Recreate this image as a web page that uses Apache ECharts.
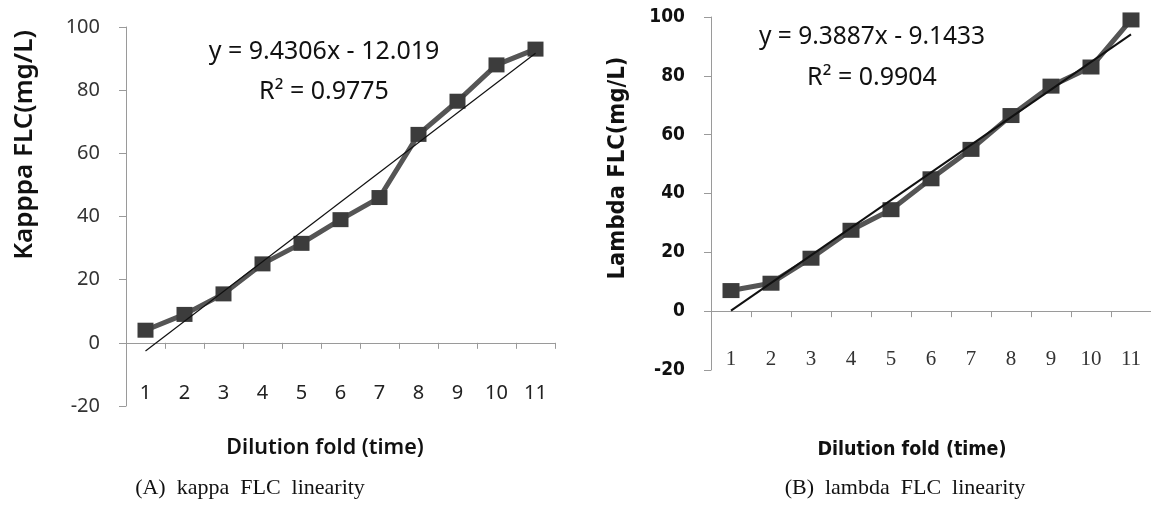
<!DOCTYPE html>
<html>
<head>
<meta charset="utf-8">
<style>
  html, body { margin: 0; padding: 0; background: #fff; }
  #main { width: 1151px; height: 511px; }
</style>
<script src="https://cdn.jsdelivr.net/npm/echarts@6/dist/echarts.min.js"></script>
</head>
<body>
<div id="main"></div>
<script>
var categories = ['1', '2', '3', '4', '5', '6', '7', '8', '9', '10', '11'];
var kappaValues = [4, 9, 15.5, 25, 31.5, 39, 46, 66, 76.5, 88, 93];
var lambdaValues = [7, 9.5, 18, 27.5, 34.5, 45, 55, 66.5, 76.5, 83, 99];
// trend line ends, read at dilution 1 and 11
var kappaTrend = [-2.6, 91.7];
var lambdaTrend = [0.2, 94.1];
var yMin = -20, yMax = 100, yStep = 20;

var myChart = echarts.init(document.getElementById('main'));

function yAxisOf(grid, labelStyle) {
  return {
    type: 'value', gridIndex: grid, min: yMin, max: yMax, interval: yStep,
    splitLine: { show: false },
    axisLine: { show: true, lineStyle: { color: '#9a9a9a', width: 1 } },
    axisTick: { show: true, length: 7, lineStyle: { color: '#9a9a9a' } },
    axisLabel: Object.assign({ margin: 26 }, labelStyle)
  };
}

function xAxisOf(grid, labelStyle) {
  return {
    type: 'category', gridIndex: grid, data: categories, boundaryGap: true,
    axisLine: { onZero: true, lineStyle: { color: '#9a9a9a', width: 1 } },
    axisTick: { show: true, length: 6, lineStyle: { color: '#9a9a9a' } },
    axisLabel: Object.assign({ interval: 0 }, labelStyle)
  };
}

function dataSeries(idx, values, size) {
  return {
    type: 'line', xAxisIndex: idx, yAxisIndex: idx, data: values,
    symbol: 'rect', symbolSize: size,
    lineStyle: { color: '#555', width: 5 },
    itemStyle: { color: '#3c3c3c' },
    z: 2
  };
}

function trendSeries(idx, ends, w) {
  return {
    type: 'line', xAxisIndex: idx, yAxisIndex: idx,
    data: [[0, ends[0]], [categories.length - 1, ends[1]]],
    symbol: 'none', lineStyle: { color: '#111', width: w }, z: 3
  };
}

function label(text, x, y, font, rot) {
  return {
    type: 'text', x: x, y: y, rotation: rot || 0,
    style: { text: text, font: font, fill: '#111', textAlign: 'center', textVerticalAlign: 'middle' }
  };
}

var option = {
  animation: false,
  grid: [
    { left: 126, top: 27, width: 429, height: 379 },
    { left: 711, top: 17, width: 449, height: 353 }
  ],
  xAxis: [
    xAxisOf(0, { margin: -23, fontFamily: 'Noto Sans', fontSize: 20, color: '#222' }),
    xAxisOf(1, { margin: -21, fontFamily: 'Liberation Serif', fontSize: 21, color: '#333' })
  ],
  yAxis: [
    yAxisOf(0, { fontFamily: 'Noto Sans', fontSize: 20, color: '#333' }),
    yAxisOf(1, { fontFamily: 'DejaVu Sans Condensed', fontWeight: 'bold', fontSize: 19, color: '#111' })
  ],
  series: [
    dataSeries(0, kappaValues, [16, 15]),
    trendSeries(0, kappaTrend, 1.2),
    dataSeries(1, lambdaValues, [17, 15]),
    trendSeries(1, lambdaTrend, 2)
  ],
  graphic: [
    label('y = 9.4306x - 12.019', 324, 52, '25px "Noto Sans"'),
    label('R² = 0.9775', 324, 92, '25px "Noto Sans"'),
    label('y = 9.3887x - 9.1433', 872, 37, '24.5px "Noto Sans"'),
    label('R² = 0.9904', 872, 78, '25px "Noto Sans"'),
    label('Kapppa FLC(mg/L)', 25, 145, '600 26px "Noto Sans"', Math.PI / 2),
    label('Lambda FLC(mg/L)', 618, 168, 'bold 23.5px "DejaVu Sans Condensed"', Math.PI / 2),
    label('Dilution fold (time)', 325, 448, '600 21.5px "Noto Sans"'),
    label('Dilution fold (time)', 912, 450, 'bold 19.5px "DejaVu Sans Condensed"'),
    label('(A)  kappa  FLC  linearity', 250, 488, '22px "Liberation Serif"'),
    label('(B)  lambda  FLC  linearity', 905, 488, '22px "Liberation Serif"')
  ]
};

myChart.setOption(option);
</script>
</body>
</html>
